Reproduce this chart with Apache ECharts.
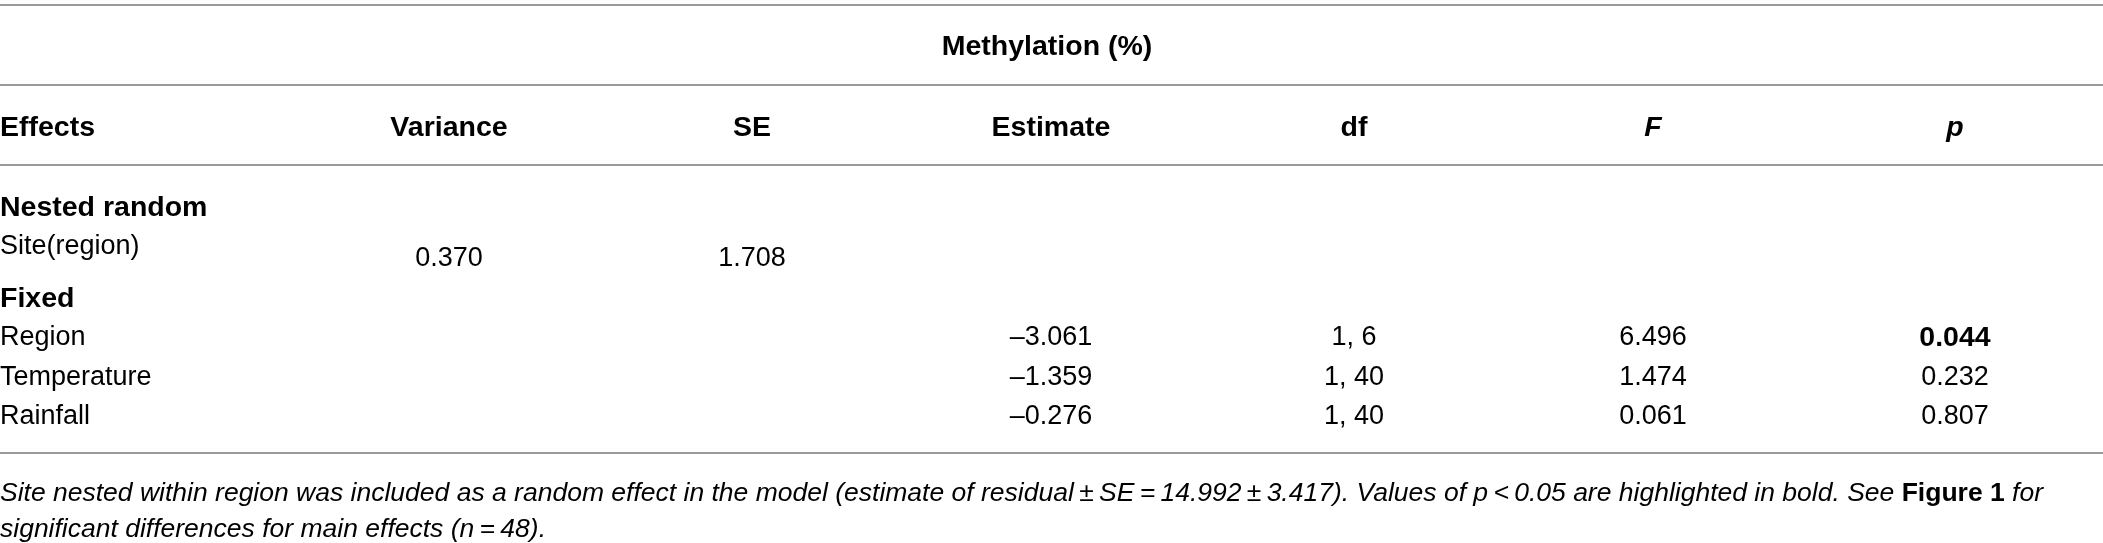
<!DOCTYPE html>
<html>
<head>
<meta charset="utf-8">
<script src="https://cdn.jsdelivr.net/npm/echarts@6/dist/echarts.min.js"></script>
<style>
    html, body { margin: 0; padding: 0; background: #fff; }
    #main { width: 2103px; height: 543px; }
</style>
</head>
<body>
<div id="main"></div>
<script>
    // table content
    var spanTitle = 'Methylation (%)';
    var headers = ['Effects', 'Variance', 'SE', 'Estimate', 'df', 'F', 'p'];
    var italicHeaders = [false, false, false, false, false, true, true];
    var groupLabels = ['Nested random', 'Fixed'];
    var randomEffects = ['Site(region)'];
    var randomVariance = ['0.370'];
    var randomSE = ['1.708'];
    var fixedEffects = ['Region', 'Temperature', 'Rainfall'];
    var fixedEstimate = ['\u20133.061', '\u20131.359', '\u20130.276'];
    var fixedDf = ['1, 6', '1, 40', '1, 40'];
    var fixedF = ['6.496', '1.474', '0.061'];
    var fixedP = ['0.044', '0.232', '0.807'];
    var pBold = [true, false, false];
    var footLine1 = 'Site nested within region was included as a random effect in the model (estimate of residual\u2009\u00b1\u2009SE\u2009=\u200914.992\u2009\u00b1\u20093.417). Values of p\u2009<\u20090.05 are highlighted in bold. See {b|Figure 1} for';
    var footLine2 = 'significant differences for main effects (n\u2009=\u200948).';

    // layout
    var colX = [0, 449, 752, 1051, 1354, 1653, 1955];
    var ruleY = [5, 85, 165, 453];
    var titleY = 47, headerY = 128;
    var groupY = [208, 299];
    var randomY = [247], randomValY = [259];
    var fixedY = [338, 378, 417];
    var footY = [494, 530];
    var FONT = '"Liberation Sans", Arial, Helvetica, sans-serif';
    var SIZE = 27;      // regular cells
    var BSIZE = 28.5;   // bold headings

    var els = [];
    function txt(x, y, s, align, weight, style) {
        var size = weight === 'bold' ? BSIZE : SIZE;
        els.push({
            type: 'text', x: x, y: y, silent: true,
            style: {
                text: s, fill: '#000', align: align, verticalAlign: 'middle',
                font: (style || 'normal') + ' ' + (weight || 'normal') + ' ' + size + 'px ' + FONT
            }
        });
    }

    // horizontal rules
    for (var i = 0; i < ruleY.length; i++) {
        els.push({
            type: 'line', silent: true,
            shape: { x1: 0, y1: ruleY[i], x2: 2103, y2: ruleY[i] },
            style: { stroke: '#9a9a9a', lineWidth: 2 }
        });
    }

    txt(1047, titleY, spanTitle, 'center', 'bold');
    for (var c = 0; c < headers.length; c++) {
        txt(colX[c], headerY, headers[c], c === 0 ? 'left' : 'center', 'bold', italicHeaders[c] ? 'italic' : 'normal');
    }

    txt(0, groupY[0], groupLabels[0], 'left', 'bold');
    for (var r = 0; r < randomEffects.length; r++) {
        txt(0, randomY[r], randomEffects[r], 'left');
        txt(colX[1], randomValY[r], randomVariance[r], 'center');
        txt(colX[2], randomValY[r], randomSE[r], 'center');
    }

    txt(0, groupY[1], groupLabels[1], 'left', 'bold');
    for (var k = 0; k < fixedEffects.length; k++) {
        txt(0, fixedY[k], fixedEffects[k], 'left');
        txt(colX[3], fixedY[k], fixedEstimate[k], 'center');
        txt(colX[4], fixedY[k], fixedDf[k], 'center');
        txt(colX[5], fixedY[k], fixedF[k], 'center');
        txt(colX[6], fixedY[k], fixedP[k], 'center', pBold[k] ? 'bold' : 'normal');
    }

    // footnote
    var footSize = 26.5;
    var footFont = 'italic normal ' + footSize + 'px ' + FONT;
    for (var f = 0; f < 2; f++) {
        els.push({
            type: 'text', x: 0, y: footY[f], silent: true,
            style: {
                text: f === 0 ? footLine1 : footLine2,
                fill: '#000', align: 'left', verticalAlign: 'middle', font: footFont,
                rich: {
                    b: { fontStyle: 'normal', fontWeight: 'bold', fontSize: footSize, fontFamily: FONT, fill: '#000' }
                }
            }
        });
    }

    var myChart = echarts.init(document.getElementById('main'));
    myChart.setOption({
        backgroundColor: '#fff',
        animation: false,
        graphic: { elements: els }
    });
</script>
</body>
</html>
